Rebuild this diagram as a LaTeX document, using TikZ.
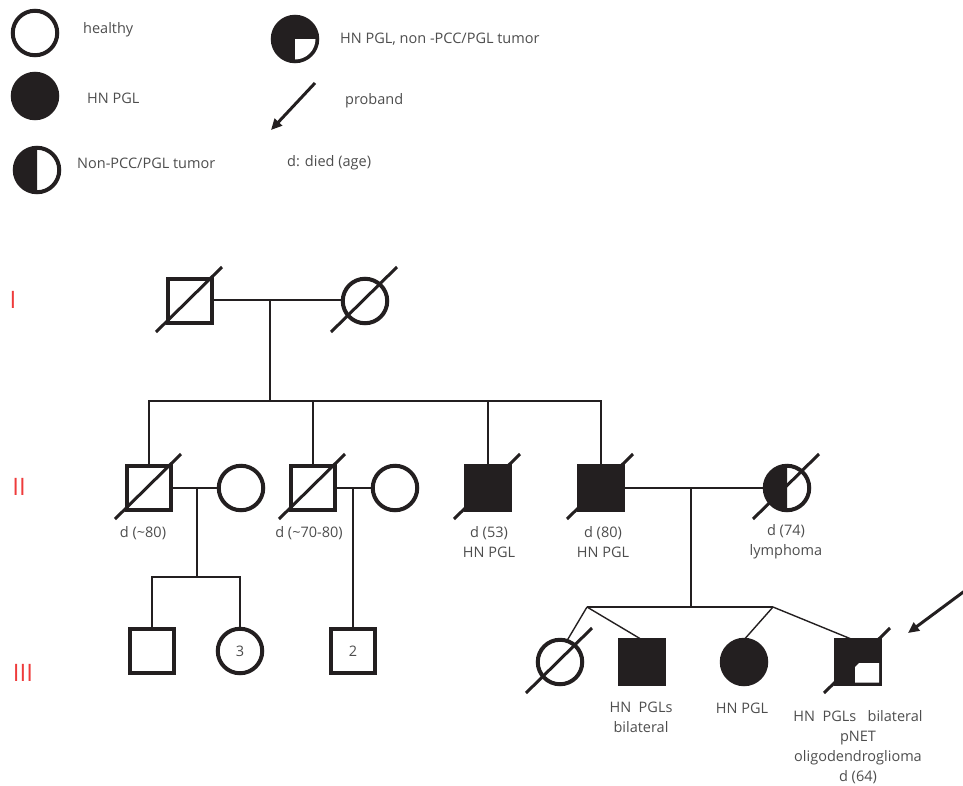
\documentclass[tikz,border=0pt]{standalone}
\usepackage{fontspec}
\setmainfont{Open Sans}
\usetikzlibrary{arrows.meta,calc}
\definecolor{ink}{HTML}{231F20}
\definecolor{txt}{HTML}{4D4D4D}
\definecolor{gen}{HTML}{EE3B3B}
\tikzset{
  sym/.style={draw=ink,line width=4pt,minimum size=44.5pt,inner sep=0pt,outer sep=0pt,font=\fontsize{14.5}{16}\selectfont,text=txt},
  male/.style={sym,rectangle},
  female/.style={sym,circle},
  aff/.style={fill=ink},
  slashline/.style={draw=ink,line width=3pt},
  conn/.style={draw=ink,line width=1.4pt},
  lbl/.style={text=txt,inner sep=0pt,align=center,font=\fontsize{14.5}{19.8}\selectfont},
  genlbl/.style={text=gen,inner sep=0pt,font=\fontsize{24}{26}\selectfont},
  arr/.style={draw=ink,line width=3pt,-{Triangle[length=11pt,width=10pt]}}
}
\newcommand\deceased[1]{\draw[slashline] ([shift={(-34,31)}]#1.center) -- ([shift={(32,-34)}]#1.center);}
\begin{document}
\begin{tikzpicture}[x=1pt,y=-1pt]
\useasboundingbox (0,0) rectangle (963,785);
% ---------------- legend ----------------
\node[female] (lh) at (35,33) {};
\node[lbl,anchor=west] (lht) at (83,30) {healthy};
\node[female,aff] (la) at (35,96) {};
\node[lbl,anchor=west] (lat) at (87,98) {HN PGL};
\node[female] (ln) at (37,170) {};
\fill[ink] (ln.center) ++(0,-22) arc[start angle=90,end angle=270,radius=22pt] -- cycle;
\node[lbl,anchor=west] (lnt) at (77,163) {Non-PCC/PGL tumor};
\node[female,aff] (lq) at (295,39) {};
\fill[white] (lq.center) -- ++(20.5,0) arc[start angle=0,end angle=-90,radius=20.5pt] -- cycle;
\node[lbl,anchor=west] (lqt) at (340,39) {HN PGL, non -PCC/PGL tumor};
\coordinate (lpa) at (315,83);
\coordinate (lpb) at (271,130);
\draw[arr] (lpa) -- (lpb);
\node[lbl,anchor=west] (lpt) at (345,101) {proband};
\node[lbl,anchor=west] (ldt) at (287,163) {d: died (age)};
% ---------------- generation labels ----------------
\node[genlbl] (g1) at (13,300) {I};
\node[genlbl] (g2) at (19,487) {II};
\node[genlbl] (g3) at (23,673) {III};
% ---------------- generation I ----------------
\node[male] (i1) at (190,301) {};
\node[female] (i2) at (365,301) {};
\deceased{i1}
\deceased{i2}
\coordinate (m1) at (270,300);
\coordinate (s1) at (270,401);
\draw[conn] (i1.east |- m1) -- (i2.west |- m1);
\draw[conn] (m1) -- (s1);
% ---------------- generation II ----------------
\node[male] (ii1) at (149,488) {};
\node[female] (ii2) at (241,488) {};
\node[male] (ii3) at (313,488) {};
\node[female] (ii4) at (395,488) {};
\node[male,aff] (ii5) at (488,488) {};
\node[male,aff] (ii6) at (601,488) {};
\node[female] (ii7) at (787,488) {};
\fill[ink] (ii7.center) ++(0,-22) arc[start angle=90,end angle=270,radius=22pt] -- cycle;
\deceased{ii1}
\deceased{ii3}
\deceased{ii5}
\deceased{ii6}
\deceased{ii7}
\draw[conn] (ii1.north) -- (ii1.north |- s1) -- (ii6.north |- s1) -- (ii6.north);
\draw[conn] (ii3.north) -- (ii3.north |- s1);
\draw[conn] (ii5.north) -- (ii5.north |- s1);
\node[lbl] (tii1) at (143,533) {d (\textasciitilde80)};
\node[lbl] (tii3) at (309,533) {d (\textasciitilde70-80)};
\node[lbl] (tii5) at (489,542) {d (53)\\HN PGL};
\node[lbl] (tii6) at (603,542) {d (80)\\HN PGL};
\node[lbl] (tii7) at (786,542) {d (74)\\lymphoma};
% couples
\draw[conn] (ii1.east) -- (ii2.west);
\draw[conn] (ii3.east) -- (ii4.west);
\draw[conn] (ii6.east) -- (ii7.west);
\coordinate (c1) at (197,488);
\coordinate (b1) at (197,577);
\coordinate (c2) at (353,488);
\coordinate (c3) at (691,488);
\coordinate (b3) at (691,607);
\coordinate (sl) at (587,607);
\coordinate (sr) at (773,607);
\draw[conn] (c1) -- (b1);
\draw[conn] (c3) -- (b3);
\draw[conn] (sl) -- (sr);
% ---------------- generation III ----------------
\node[male] (iii1) at (152,651) {};
\node[female] (iii2) at (240,651) {3};
\node[male] (iii3) at (353,651) {2};
\draw[conn] (iii1.north) -- (iii1.north |- b1) -- (iii2.north |- b1) -- (iii2.north);
\draw[conn] (c2) -- (iii3.north);
\node[female] (iii4) at (560,662) {};
\node[male,aff] (iii5) at (642,662) {};
\node[female,aff] (iii6) at (744,662) {};
\node[male,aff] (iii7) at (858,662) {};
\fill[white] ([shift={(-3,5)}]iii7.center) -- ++(4,-4) -- ++(20,0) -- ++(0,19.5) -- ++(-24,0) -- cycle;
\deceased{iii4}
\deceased{iii7}
\draw[conn] (sl) -- (iii4.72);
\draw[conn] (sl) -- (iii5.north);
\draw[conn] (sr) -- (iii6.north);
\draw[conn] (sr) -- ([xshift=-5pt]iii7.north);
\coordinate (pa) at (966,590);
\coordinate (pb) at ($(iii7.center)+(50,-29)$);
\draw[arr] (pa) -- (pb);
\node[lbl] (tiii5) at (641,717) {HN\ \ PGLs\\bilateral};
\node[lbl] (tiii6) at (742,708) {HN PGL};
\node[lbl] (tiii7) at (858,747) {HN\ \ PGLs\ \ \ bilateral\\pNET\\oligodendroglioma\\d (64)};
\end{tikzpicture}
\end{document}
